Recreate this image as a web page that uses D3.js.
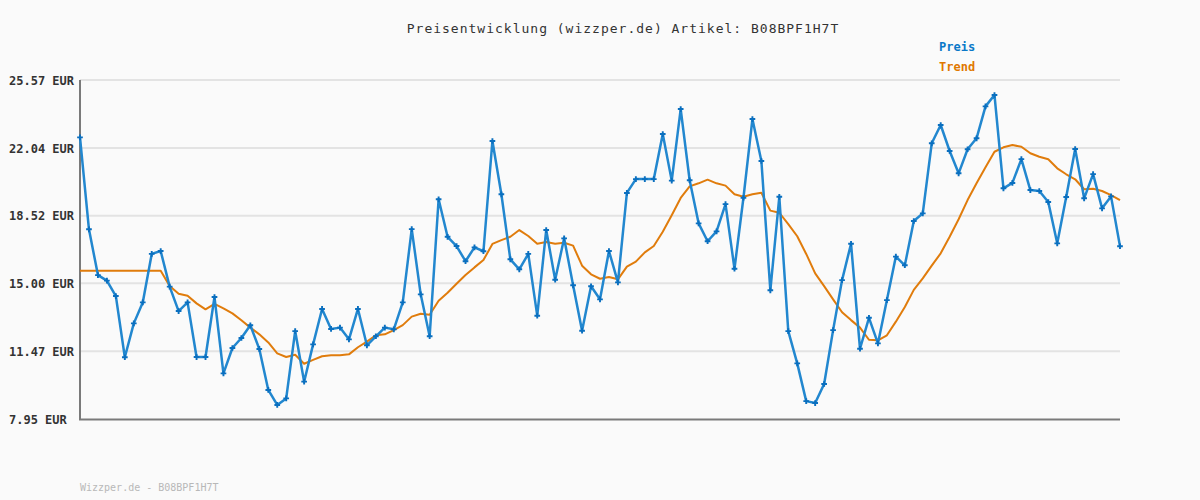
<!DOCTYPE html>
<html>
<head>
<meta charset="utf-8">
<script src="https://cdn.jsdelivr.net/npm/d3@7"></script>
<style>
  html, body { margin: 0; padding: 0; background: #fafafa; }
  svg { display: block; }
</style>
</head>
<body>
<svg id="chart" width="1200" height="500"></svg>
<script>
const titleText = "Preisentwicklung (wizzper.de) Artikel: B08BPF1H7T";
const footerText = "Wizzper.de - B08BPF1H7T";
const seriesNames = ["Preis", "Trend"];
const yTickValues = [7.95, 11.47, 15.00, 18.52, 22.04, 25.57];
const yTickLabels = ["7.95 EUR", "11.47 EUR", "15.00 EUR", "18.52 EUR", "22.04 EUR", "25.57 EUR"];

const preis = [
  22.59, 17.81, 15.43, 15.14, 14.34, 11.16, 12.92, 14.01, 16.53, 16.68,
  14.83, 13.56, 14.01, 11.17, 11.17, 14.29, 10.32, 11.64, 12.16, 12.82,
  11.59, 9.46, 8.68, 9.02, 12.52, 9.89, 11.83, 13.67, 12.63, 12.70,
  12.09, 13.67, 11.78, 12.25, 12.70, 12.61, 14.01, 17.82, 14.43, 12.25,
  19.37, 17.42, 16.94, 16.15, 16.87, 16.67, 22.40, 19.63, 16.25, 15.73,
  16.53, 13.32, 17.77, 15.19, 17.34, 14.90, 12.54, 14.85, 14.17, 16.68,
  15.05, 19.70, 20.42, 20.42, 20.42, 22.76, 20.34, 24.06, 20.36, 18.12,
  17.19, 17.70, 19.12, 15.76, 19.45, 23.54, 21.36, 14.64, 19.50, 12.52,
  10.84, 8.88, 8.78, 9.77, 12.57, 15.17, 17.06, 11.60, 13.21, 11.88,
  14.13, 16.39, 15.94, 18.24, 18.64, 22.28, 23.23, 21.88, 20.72, 21.97,
  22.54, 24.20, 24.79, 19.94, 20.22, 21.46, 19.85, 19.80, 19.23, 17.08,
  19.49, 21.98, 19.42, 20.68, 18.90, 19.52, 16.93
];

const trend = [
  15.66, 15.66, 15.66, 15.66, 15.66, 15.66, 15.66, 15.66, 15.66, 15.66,
  14.86, 14.46, 14.36, 13.96, 13.65, 13.93, 13.70, 13.44, 13.08, 12.70,
  12.35, 11.93, 11.36, 11.17, 11.29, 10.82, 11.02, 11.21, 11.26, 11.26,
  11.31, 11.68, 11.97, 12.30, 12.35, 12.57, 12.83, 13.27, 13.42, 13.37,
  14.10, 14.51, 14.98, 15.43, 15.83, 16.21, 17.05, 17.25, 17.42, 17.77,
  17.46, 17.06, 17.15, 17.06, 17.11, 16.96, 15.92, 15.47, 15.24, 15.33,
  15.21, 15.87, 16.13, 16.61, 16.94, 17.68, 18.54, 19.44, 20.04, 20.20,
  20.39, 20.20, 20.08, 19.63, 19.50, 19.63, 19.71, 18.78, 18.67, 18.08,
  17.45, 16.53, 15.52, 14.86, 14.17, 13.50, 13.09, 12.70, 12.07, 12.04,
  12.30, 13.01, 13.77, 14.66, 15.26, 15.92, 16.56, 17.42, 18.33, 19.33,
  20.20, 21.03, 21.84, 22.07, 22.19, 22.10, 21.76, 21.58, 21.45, 20.98,
  20.67, 20.41, 19.89, 19.92, 19.80, 19.59, 19.33
];

(function () {
const svg = d3.select("#chart");
const W = 1200, H = 500;
const pLeft = 80, pRight = 1120, pTop = 80, pBottom = 419;

svg.append("rect").attr("width", W).attr("height", H).attr("fill", "#fafafa");

const x = d3.scaleLinear().domain([0, preis.length - 1]).range([pLeft, pRight]);
const y = d3.scaleLinear().domain([yTickValues[0], yTickValues[yTickValues.length - 1]]).range([pBottom, pTop]);

// grid lines
svg.append("g")
  .selectAll("line")
  .data(yTickValues.slice(1))
  .join("line")
  .attr("x1", pLeft).attr("x2", pRight)
  .attr("y1", d => y(d)).attr("y2", d => y(d))
  .attr("stroke", "#e3e3e3").attr("stroke-width", 2);

// y axis with labels
const yAxis = d3.axisLeft(y)
  .tickValues(yTickValues)
  .tickSize(0)
  .tickFormat((d, i) => yTickLabels[i]);
const gy = svg.append("g").attr("transform", `translate(${pLeft},0)`).call(yAxis);
gy.select(".domain").remove();
gy.selectAll("text")
  .attr("x", -71)
  .attr("text-anchor", "start")
  .attr("dy", "0.35em")
  .attr("fill", "#333")
  .style("font-family", "'DejaVu Sans Mono', monospace")
  .style("font-size", "12px")
  .style("font-weight", "bold");

// axis lines
svg.append("line").attr("x1", pLeft).attr("x2", pLeft).attr("y1", pTop).attr("y2", pBottom + 1)
  .attr("stroke", "#7a7a7a").attr("stroke-width", 2);
svg.append("line").attr("x1", pLeft - 1).attr("x2", pRight).attr("y1", pBottom + 0.5).attr("y2", pBottom + 0.5)
  .attr("stroke", "#7a7a7a").attr("stroke-width", 2);

// trend line
const line = d3.line().x((d, i) => x(i)).y(d => y(d));
svg.append("path").datum(trend)
  .attr("d", line).attr("fill", "none")
  .attr("stroke", "#e07c0c").attr("stroke-width", 2)
  .attr("stroke-linejoin", "round");

// price line
svg.append("path").datum(preis)
  .attr("d", line).attr("fill", "none")
  .attr("stroke", "#2287cf").attr("stroke-width", 2.5)
  .attr("stroke-linejoin", "round");

// markers
const cross = d3.symbol().type(d3.symbolCross).size(18);
svg.append("g").selectAll("path")
  .data(preis)
  .join("path")
  .attr("d", cross)
  .attr("transform", (d, i) => `translate(${x(i)},${y(d)})`)
  .attr("fill", "#0a6fbf");

// title
svg.append("text")
  .attr("x", 623).attr("y", 33)
  .attr("text-anchor", "middle")
  .attr("fill", "#333")
  .style("font-family", "'DejaVu Sans Mono', monospace")
  .style("font-size", "13px")
  .style("letter-spacing", "1px")
  .text(titleText);

// legend
const legendColors = ["#0a78c8", "#e07800"];
svg.append("g").selectAll("text")
  .data(seriesNames)
  .join("text")
  .attr("x", 939)
  .attr("y", (d, i) => 51 + i * 20)
  .attr("fill", (d, i) => legendColors[i])
  .style("font-family", "'DejaVu Sans Mono', monospace")
  .style("font-size", "12px")
  .style("font-weight", "bold")
  .text(d => d);

// footer
svg.append("text")
  .attr("x", 80).attr("y", 491)
  .attr("fill", "#b8b8b8")
  .style("font-family", "'DejaVu Sans Mono', monospace")
  .style("font-size", "10px")
  .text(footerText);
})();
</script>
</body>
</html>
